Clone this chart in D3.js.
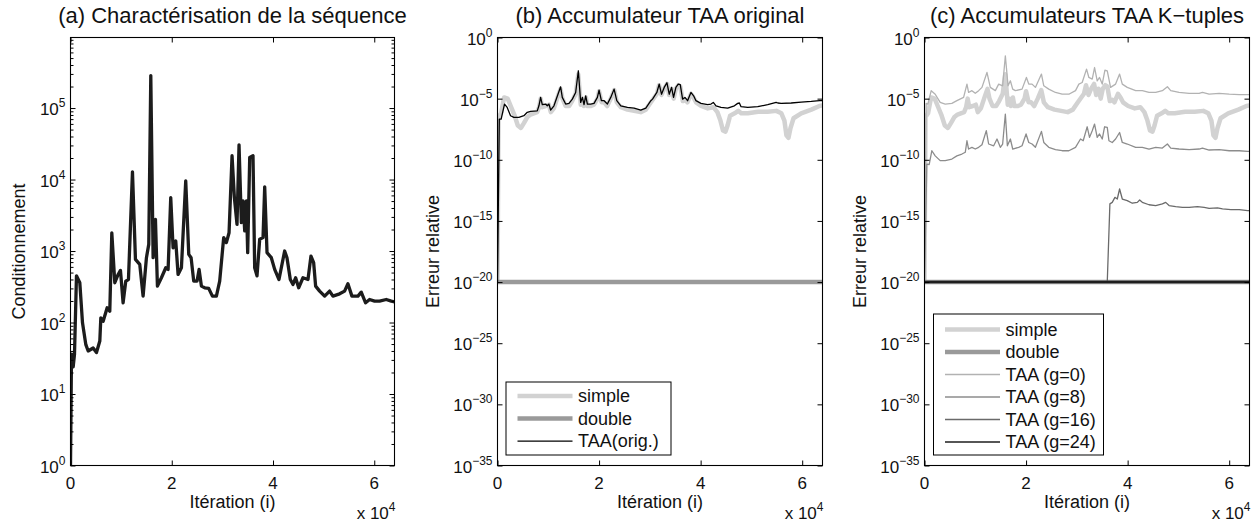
<!DOCTYPE html>
<html>
<head>
<meta charset="utf-8">
<script src="https://cdn.jsdelivr.net/npm/d3@7"></script>
<style>
  body { margin: 0; background: #fff; }
  svg { display: block; }
  text { font-family: "Liberation Sans", Arial, Helvetica, sans-serif; fill: #111; }
</style>
</head>
<body>
<svg id="fig" width="1255" height="524"></svg>
<script>
// ---------- shared axis settings ----------
const iterDomain = [0, 64000];
const iterTicks = [0, 20000, 40000, 60000];
const iterTickLabels = ["0", "2", "4", "6"];

const condDomain = [1, 9.7e5];
const condTicks = [1, 10, 100, 1000, 10000, 100000];
const condTickExps = ["0", "1", "2", "3", "4", "5"];

const errDomain = [1e-35, 1];
const errTicks = [1, 1e-5, 1e-10, 1e-15, 1e-20, 1e-25, 1e-30, 1e-35];
const errTickExps = ["0", "\u22125", "\u221210", "\u221215", "\u221220", "\u221225", "\u221230", "\u221235"];

const titles = ["(a) Charact\u00e9risation de la s\u00e9quence", "(b) Accumulateur TAA original", "(c) Accumulateurs TAA K\u2212tuples"];
const yLabels = ["Conditionnement", "Erreur relative", "Erreur relative"];
const xLabel = "It\u00e9ration (i)";

const legendLabelsB = ["simple", "double", "TAA(orig.)"];
const legendLabelsC = ["simple", "double", "TAA (g=0)", "TAA (g=8)", "TAA (g=16)", "TAA (g=24)"];

// ---------- (a) condition number of the sequence ----------
const condIter = [0, 200, 530, 790, 1180, 1840, 2370, 3030, 3490, 4470,
  5130, 5790, 5990, 6450, 7240, 7760, 8160, 8750, 9410, 9870,
  10390, 10920, 11450, 12240, 12830, 13680, 14340, 15000, 15460, 15860,
  16320, 16780, 17170, 17960, 18820, 19280, 19800, 20260, 20790, 21250,
  21910, 22760, 23360, 23820, 24340, 25000, 25400, 25860, 26510, 27300,
  28030, 28820, 29470, 30260, 30790, 31320, 31910, 32370, 32890, 33290,
  33750, 34080, 34410, 34740, 35000, 35400, 36050, 36380, 36840, 37370,
  38030, 38360, 38820, 39670, 40330, 41180, 42300, 42760, 43420, 43950,
  44470, 45070, 45920, 46910, 47500, 48030, 48420, 49210, 50200, 51180,
  51840, 53160, 54140, 54800, 55590, 56780, 57430, 58290, 59080, 60070,
  61050, 62370, 63360, 64000];
const condValue = [1, 36, 24, 36, 450, 360, 99, 49, 40, 44,
  38, 55, 116, 104, 161, 144, 1800, 360, 470, 535,
  189, 380, 400, 12800, 765, 650, 234, 807, 1240, 284000,
  807, 2780, 323, 423, 584, 553, 5590, 1110, 1380, 470,
  584, 9570, 898, 807, 380, 380, 553, 323, 306, 300,
  234, 234, 380, 1540, 1310, 1800, 21500, 5590, 2360, 30600,
  2490, 5020, 1910, 5020, 948, 20300, 21500, 584, 450, 1460,
  1540, 7890, 948, 807, 553, 400, 1000, 807, 400, 341,
  423, 306, 423, 400, 851, 686, 323, 275, 234, 275,
  234, 252, 275, 348, 234, 234, 266, 189, 210, 199,
  199, 210, 199, 195];

// ---------- relative errors ----------
const simpleIter = [0, 200, 700, 1300, 2000, 2600, 3300, 4000, 4600, 5200,
  5900, 6500, 7800, 8200, 8500, 8800, 9500, 10100, 10500, 11100,
  11900, 12400, 12800, 13400, 14100, 14700, 15400, 15900, 16400, 16700,
  17000, 17400, 17700, 18400, 19000, 19700, 20000, 20500, 21000, 21600,
  22300, 23000, 23500, 24300, 25600, 26900, 28200, 29200, 30200, 31400,
  31800, 32300, 32800, 33400, 33800, 34300, 34700, 35100, 35600, 36000,
  36500, 37000, 37400, 38100, 38600, 39100, 40100, 41400, 42500, 43300,
  43900, 44400, 44900, 45300, 45800, 46700, 47400, 48000, 49300, 51300,
  53200, 54900, 55900, 56500, 56900, 57300, 57700, 58300, 59800, 61800,
  63400, 64000];
const simpleErr = [1e-20, 3.2e-7, 6.3e-7, 1.26e-5, 1.0e-5, 2.5e-6, 5.0e-7, 6.3e-8, 4.0e-8, 1.0e-7,
  3.2e-7, 5.0e-7, 7.9e-7, 2.0e-6, 1.0e-5, 2.0e-6, 2.5e-6, 3.2e-6, 7.9e-7, 1.6e-6,
  1.6e-5, 6.3e-5, 1.0e-5, 2.5e-6, 2.5e-6, 6.3e-6, 2.5e-5, 1.0e-3, 3.2e-6, 1.0e-5,
  2.5e-6, 1.26e-5, 2.5e-6, 2.5e-6, 3.2e-6, 1.0e-5, 4.0e-5, 5.0e-6, 5.0e-6, 2.5e-6,
  1.0e-5, 5.0e-5, 5.0e-6, 2.0e-6, 1.26e-6, 1.0e-6, 7.9e-7, 1.26e-6, 5.0e-6, 2.5e-5,
  1.26e-4, 2.0e-5, 6.3e-5, 1.6e-4, 2.0e-5, 6.3e-5, 1.0e-5, 6.3e-5, 1.26e-4, 1.0e-4,
  6.3e-6, 7.9e-6, 5.0e-6, 2.5e-5, 1.26e-5, 5.0e-6, 2.5e-6, 1.6e-6, 2.0e-6, 7.9e-7,
  1.6e-7, 2.5e-8, 2.0e-8, 6.3e-8, 4.0e-7, 6.3e-7, 1.0e-6, 6.3e-7, 6.3e-7, 8.5e-7,
  8.5e-7, 1.0e-6, 6.3e-7, 1.6e-7, 1.0e-8, 6.3e-9, 4.0e-8, 2.5e-7, 6.3e-7, 1.26e-6,
  2.5e-6, 2.8e-6];

const doubleIter = [0, 64000];
const doubleErr = [1e-20, 1e-20];

const taaOrigIter = [0, 350, 720, 1380, 1910, 2570, 3220, 4210, 5200, 5860,
  6510, 7830, 8160, 8490, 8820, 9470, 9800, 10130, 10460, 11120,
  11910, 12430, 12760, 13420, 14080, 14740, 15390, 15920, 16380, 16710,
  17040, 17370, 17700, 18360, 19010, 19670, 20000, 20460, 20990, 21640,
  22300, 22960, 23490, 24280, 25590, 26910, 28220, 29210, 30200, 30530,
  31380, 31840, 32300, 32830, 33360, 33820, 34280, 34670, 35130, 35590,
  35990, 36450, 36910, 37430, 38090, 38620, 39080, 40070, 41380, 42040,
  42500, 43030, 44010, 45330, 46650, 47300, 47630, 47960, 49280, 51250,
  53220, 54870, 55200, 55860, 57830, 59800, 61780, 63420, 64000];
const taaOrigErr = [1e-20, 2.1e-7, 2.1e-7, 3.6e-6, 1.9e-6, 4.0e-7, 2.9e-7, 2.9e-7, 4.0e-7, 7.6e-7,
  9.1e-7, 1.0e-6, 2.6e-6, 1.26e-5, 3.2e-6, 3.6e-6, 2.6e-6, 3.6e-6, 1.17e-6, 2.6e-6,
  2.3e-5, 9.3e-5, 1.26e-5, 3.6e-6, 4.1e-6, 9.1e-6, 3.2e-5, 1.9e-3, 4.9e-6, 1.26e-5,
  3.2e-6, 1.7e-5, 3.6e-6, 3.6e-6, 4.1e-6, 1.26e-5, 5.0e-5, 6.8e-6, 6.8e-6, 3.6e-6,
  1.26e-5, 6.0e-5, 6.8e-6, 2.6e-6, 1.9e-6, 1.7e-6, 1.17e-6, 1.7e-6, 6.8e-6, 9.1e-6,
  3.2e-5, 1.55e-4, 2.3e-5, 8.3e-5, 2.0e-4, 2.3e-5, 8.3e-5, 1.26e-5, 8.3e-5, 1.55e-4,
  1.38e-4, 9.1e-6, 1.26e-5, 6.8e-6, 3.2e-5, 1.7e-5, 6.8e-6, 4.1e-6, 3.2e-6, 3.6e-6,
  4.9e-6, 2.6e-6, 1.9e-6, 1.7e-6, 2.6e-6, 4.1e-6, 4.4e-6, 2.2e-6, 1.9e-6, 2.2e-6,
  3.2e-6, 4.9e-6, 4.4e-6, 4.1e-6, 4.4e-6, 5.2e-6, 5.9e-6, 6.8e-6, 6.8e-6];

const taaG0Iter = [0, 330, 660, 1320, 2110, 3090, 4080, 5390, 6380, 7700,
  8360, 8680, 9340, 10000, 10660, 11320, 12300, 12960, 13950, 14610,
  15390, 15920, 16450, 16910, 17370, 17890, 19210, 20070, 20530, 21180,
  21840, 23030, 23490, 24470, 25790, 27110, 28420, 29740, 30400, 31050,
  31910, 32370, 33030, 33490, 34010, 34470, 35000, 35530, 35990, 36640,
  37630, 38420, 38950, 39930, 41580, 42890, 44210, 45530, 46840, 47830,
  48490, 50130, 52110, 54080, 54740, 56050, 58030, 60000, 61970, 63620,
  64000];
const taaG0Err = [1e-20, 4.1e-6, 3.6e-6, 4.5e-5, 2.3e-5, 4.9e-6, 3.6e-6, 4.1e-6, 6.8e-6, 1.26e-5,
  1.55e-4, 3.2e-5, 4.5e-5, 2.7e-5, 4.5e-5, 8.3e-5, 1.38e-3, 8.3e-5, 4.5e-5, 1.55e-4,
  1.12e-4, 3.2e-2, 1.12e-4, 2.9e-4, 6.0e-5, 4.5e-5, 6.0e-5, 5.4e-4, 1.55e-4, 1.55e-4,
  8.3e-5, 1.02e-3, 1.12e-4, 6.0e-5, 3.2e-5, 2.3e-5, 2.3e-5, 4.5e-5, 1.55e-4, 2.1e-4,
  2.6e-3, 5.4e-4, 4.0e-4, 3.5e-3, 2.9e-4, 5.4e-4, 1.55e-4, 2.1e-3, 1.9e-3, 8.3e-5,
  1.55e-4, 1.02e-3, 1.55e-4, 8.3e-5, 4.5e-5, 4.5e-5, 3.2e-5, 3.2e-5, 4.5e-5, 9.3e-5,
  4.5e-5, 3.2e-5, 2.7e-5, 2.7e-5, 3.2e-5, 2.3e-5, 2.7e-5, 2.3e-5, 2.1e-5, 2.1e-5,
  2.1e-5];

const taaG8Iter = [0, 460, 920, 1450, 2110, 3090, 4080, 5390, 6380, 7370,
  8030, 8360, 8680, 9340, 10000, 10660, 11320, 12170, 12630, 13620,
  14280, 14930, 15390, 15920, 16320, 16910, 17370, 18550, 19210, 20000,
  20530, 21180, 21840, 23030, 23490, 24470, 25790, 27110, 28420, 29740,
  30720, 31250, 32040, 32500, 33030, 33490, 34010, 34470, 35000, 35460,
  35990, 36320, 36970, 37630, 38420, 38950, 39930, 41580, 42890, 44210,
  45530, 46840, 47830, 48490, 50130, 52110, 54080, 54740, 56050, 58030,
  60000, 61970, 63620, 64000];
const taaG8Err = [1e-20, 4.5e-11, 4.0e-11, 5.5e-10, 2.1e-10, 8.5e-11, 8.5e-11, 1.15e-10, 2.1e-10, 2.95e-10,
  4.1e-10, 3.6e-9, 7.6e-10, 1.05e-9, 7.6e-10, 1.05e-9, 1.7e-9, 2.4e-8, 1.95e-9, 1.4e-9,
  5.0e-9, 1.05e-9, 1.95e-9, 5.5e-7, 1.4e-9, 5.0e-9, 7.6e-10, 1.05e-9, 1.4e-9, 1.3e-8,
  2.6e-9, 1.95e-9, 1.05e-9, 2.1e-8, 2.6e-9, 1.05e-9, 6.8e-10, 5.5e-10, 5.5e-10, 1.05e-9,
  5.0e-9, 3.6e-9, 5.0e-8, 6.8e-9, 2.4e-8, 8.3e-8, 6.8e-9, 1.3e-8, 5.0e-9, 5.0e-8,
  4.5e-8, 3.6e-9, 2.6e-9, 5.0e-9, 1.7e-8, 2.6e-9, 1.95e-9, 1.05e-9, 1.05e-9, 7.6e-10,
  1.05e-9, 9.1e-10, 1.95e-9, 9.1e-10, 7.6e-10, 6.8e-10, 7.6e-10, 9.1e-10, 6.3e-10, 6.8e-10,
  5.5e-10, 5.5e-10, 4.9e-10, 4.9e-10];

const taaG16Iter = [0, 35990, 36510, 36970, 37500, 37960, 38420, 38950, 39930, 40920,
  41910, 42370, 42890, 44210, 45530, 46840, 47500, 48160, 49470, 50790,
  52110, 53750, 55070, 56050, 57700, 58690, 60330, 61970, 63620, 64000];
const taaG16Err = [1e-20, 1e-20, 2.5e-14, 3.3e-14, 8.5e-14, 6.2e-14, 4.1e-13, 6.2e-14, 4.6e-14, 2.8e-14,
  3.3e-14, 5.1e-14, 3.3e-14, 2.1e-14, 1.8e-14, 2.5e-14, 3.3e-14, 1.8e-14, 1.5e-14, 1.3e-14,
  1.3e-14, 1.5e-14, 1.3e-14, 1.07e-14, 1.15e-14, 9.5e-15, 8.3e-15, 8.3e-15, 6.9e-15, 6.9e-15];

const taaG24Iter = [0, 64000];
const taaG24Err = [1e-20, 1e-20];

// ---------- drawing ----------
const svg = d3.select("#fig");
const TICK = 5, MINOR = 3;
const FONT_TICK = 17, FONT_SUP = 12, FONT_LABEL = 18, FONT_TITLE = 22, FONT_LEGEND = 18;

function zip(xs, ys) { return xs.map((v, i) => [v, ys[i]]); }

function powLabel(g, x, y, base, exp, anchor) {
  const t = g.append("text").attr("x", x).attr("y", y)
    .attr("text-anchor", anchor).attr("font-size", FONT_TICK);
  t.append("tspan").text(base);
  t.append("tspan").attr("dy", -8).attr("font-size", FONT_SUP).text(exp);
  return t;
}

function drawPanel(p) {
  const g = svg.append("g");
  const x = d3.scaleLinear().domain(iterDomain).range([p.left, p.right]);
  const y = d3.scaleLog().domain(p.yDomain).range([p.bottom, p.top]);

  const clipId = "clip-" + p.key;
  svg.append("defs").append("clipPath").attr("id", clipId)
    .append("rect").attr("x", p.left).attr("y", p.top)
    .attr("width", p.right - p.left).attr("height", p.bottom - p.top);

  // series
  const line = d3.line().x(d => x(d[0])).y(d => y(d[1]));
  const data = g.append("g").attr("clip-path", `url(#${clipId})`);
  p.series.forEach(s => {
    data.append("path").datum(zip(s.xs, s.ys))
      .attr("d", line).attr("fill", "none")
      .attr("stroke", s.color).attr("stroke-width", s.plotWidth || s.width)
      .attr("stroke-linejoin", "round").attr("stroke-linecap", "butt");
  });

  // inward ticks on all four sides
  const axes = g.append("g").attr("color", "#000");
  const noLabel = () => "";
  axes.append("g").attr("transform", `translate(0,${p.bottom})`)
    .call(d3.axisBottom(x).tickValues(iterTicks).tickSizeInner(-TICK).tickSizeOuter(0).tickFormat(noLabel));
  axes.append("g").attr("transform", `translate(0,${p.top})`)
    .call(d3.axisTop(x).tickValues(iterTicks).tickSizeInner(-TICK).tickSizeOuter(0).tickFormat(noLabel));
  axes.append("g").attr("transform", `translate(${p.left},0)`)
    .call(d3.axisLeft(y).tickValues(p.yTicks).tickSizeInner(-TICK).tickSizeOuter(0).tickFormat(noLabel));
  axes.append("g").attr("transform", `translate(${p.right},0)`)
    .call(d3.axisRight(y).tickValues(p.yTicks).tickSizeInner(-TICK).tickSizeOuter(0).tickFormat(noLabel));
  if (p.minor) {
    axes.append("g").attr("transform", `translate(${p.left},0)`)
      .call(d3.axisLeft(y).tickValues(p.minor).tickSizeInner(-MINOR).tickSizeOuter(0).tickFormat(noLabel));
    axes.append("g").attr("transform", `translate(${p.right},0)`)
      .call(d3.axisRight(y).tickValues(p.minor).tickSizeInner(-MINOR).tickSizeOuter(0).tickFormat(noLabel));
  }
  axes.selectAll(".domain").remove();
  axes.selectAll("line").attr("stroke", "#000").attr("stroke-width", 1);

  // frame
  g.append("rect").attr("x", p.left).attr("y", p.top)
    .attr("width", p.right - p.left).attr("height", p.bottom - p.top)
    .attr("fill", "none").attr("stroke", "#000").attr("stroke-width", 1.1);

  // tick labels
  iterTicks.forEach((v, i) => {
    g.append("text").attr("x", x(v)).attr("y", p.bottom + 23)
      .attr("text-anchor", "middle").attr("font-size", FONT_TICK).text(iterTickLabels[i]);
  });
  p.yTicks.forEach((v, i) => {
    powLabel(g, p.left - 5, y(v) + 7, "10", p.yTickExps[i], "end");
  });
  powLabel(g, p.right + 1, p.bottom + 53, "x 10", "4", "end");

  // labels and title
  g.append("text").attr("x", (p.left + p.right) / 2).attr("y", p.bottom + 42)
    .attr("text-anchor", "middle").attr("font-size", FONT_LABEL).text(xLabel);
  g.append("text")
    .attr("transform", `translate(${p.yLabelX},${(p.top + p.bottom) / 2}) rotate(-90)`)
    .attr("text-anchor", "middle").attr("font-size", FONT_LABEL).text(p.yLabel);
  g.append("text").attr("x", (p.left + p.right) / 2).attr("y", 23)
    .attr("text-anchor", "middle").attr("font-size", FONT_TITLE).text(p.title);

  // legend
  if (p.legend) {
    const L = p.legend;
    const lg = g.append("g");
    lg.append("rect").attr("x", L.x).attr("y", L.y).attr("width", L.w).attr("height", L.h)
      .attr("fill", "#fff").attr("stroke", "#000").attr("stroke-width", 1);
    L.labels.forEach((lab, i) => {
      const s = p.series[i];
      const cy = L.y + L.first + i * L.step;
      lg.append("line").attr("x1", L.x + 11.5).attr("x2", L.x + 66.5)
        .attr("y1", cy).attr("y2", cy)
        .attr("stroke", s.color).attr("stroke-width", s.width);
      lg.append("text").attr("x", L.x + 72).attr("y", cy + 6)
        .attr("font-size", FONT_LEGEND).text(lab);
    });
  }
}

const condMinor = [];
for (let e = 0; e < 6; e++) for (let m = 2; m <= 9; m++) {
  const v = m * Math.pow(10, e);
  if (v < condDomain[1]) condMinor.push(v);
}

const styleSimple = { color: "#d2d2d2", width: 4.5 };
const styleDouble = { color: "#9a9a9a", width: 4.5 };

drawPanel({
  key: "a", left: 70.5, right: 394.5, top: 37.5, bottom: 465.5,
  yDomain: condDomain, yTicks: condTicks, yTickExps: condTickExps, minor: condMinor,
  yLabel: yLabels[0], yLabelX: 25, title: titles[0],
  series: [{ xs: condIter, ys: condValue, color: "#1c1c1c", width: 3.3 }]
});

drawPanel({
  key: "b", left: 497.5, right: 822.5, top: 37.5, bottom: 465.5,
  yDomain: errDomain, yTicks: errTicks, yTickExps: errTickExps,
  yLabel: yLabels[1], yLabelX: 438.5, title: titles[1],
  series: [
    { xs: simpleIter, ys: simpleErr, ...styleSimple },
    { xs: doubleIter, ys: doubleErr, ...styleDouble },
    { xs: taaOrigIter, ys: taaOrigErr, color: "#000", width: 1.3 }
  ],
  legend: { x: 506, y: 382, w: 165, h: 73, first: 14, step: 22.6, labels: legendLabelsB }
});

drawPanel({
  key: "c", left: 924.5, right: 1249.5, top: 37.5, bottom: 465.5,
  yDomain: errDomain, yTicks: errTicks, yTickExps: errTickExps,
  yLabel: yLabels[2], yLabelX: 866, title: titles[2],
  series: [
    { xs: simpleIter, ys: simpleErr, ...styleSimple },
    { xs: doubleIter, ys: doubleErr, ...styleDouble },
    { xs: taaG0Iter, ys: taaG0Err, color: "#b2b2b2", width: 1.3 },
    { xs: taaG8Iter, ys: taaG8Err, color: "#8c8c8c", width: 1.3 },
    { xs: taaG16Iter, ys: taaG16Err, color: "#6a6a6a", width: 1.3 },
    { xs: taaG24Iter, ys: taaG24Err, color: "#1e1e1e", width: 1.3, plotWidth: 2.4 }
  ],
  legend: { x: 933.5, y: 314, w: 170, h: 141, first: 15.5, step: 22.5, labels: legendLabelsC }
});
</script>
</body>
</html>
